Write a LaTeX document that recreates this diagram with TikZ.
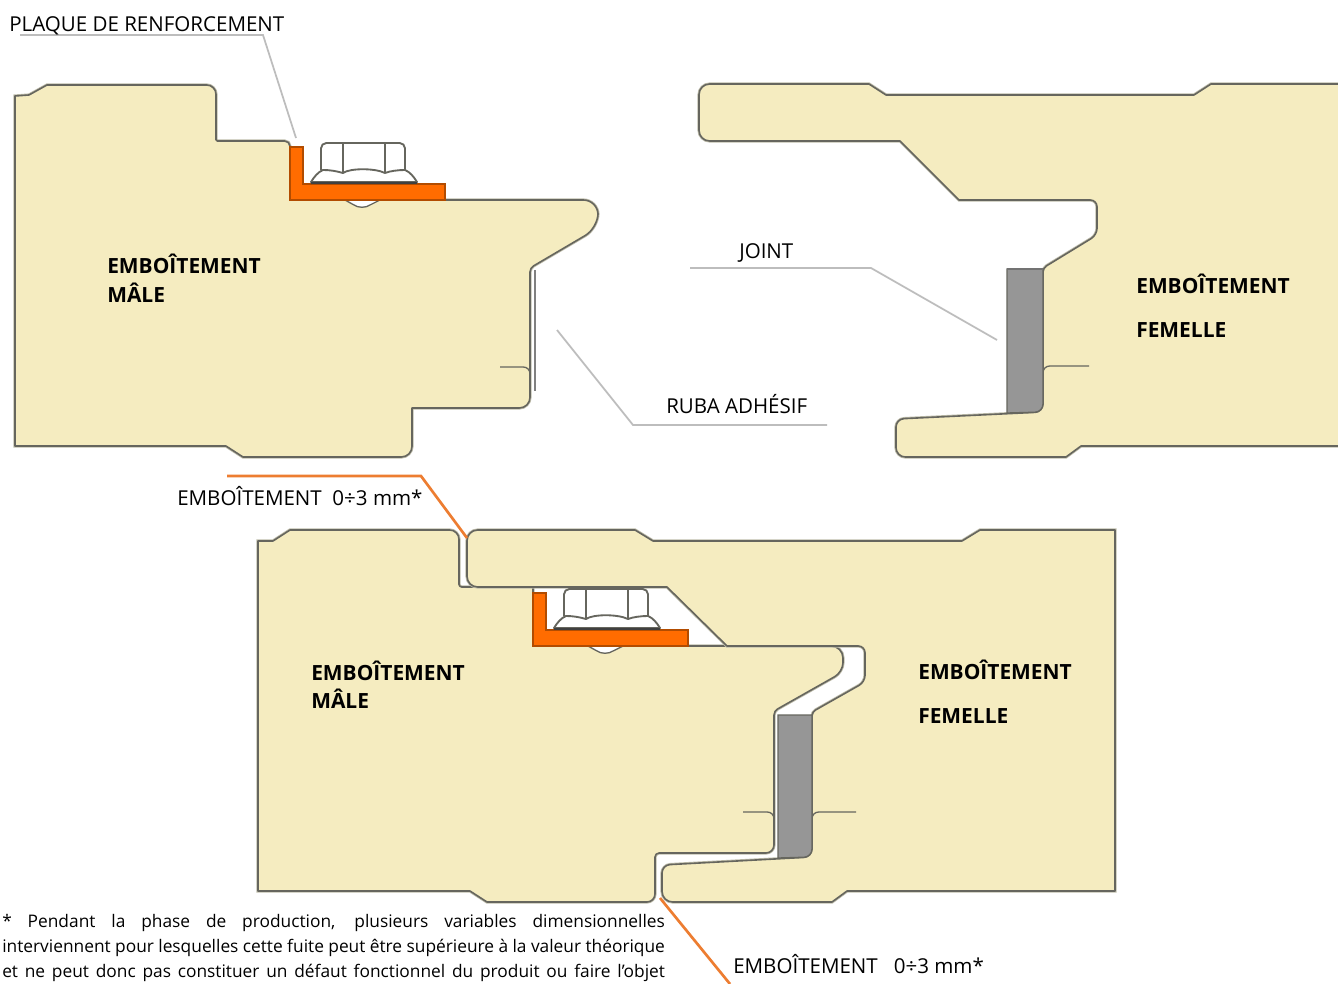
\documentclass[tikz,border=0pt]{standalone}
\usepackage{fontspec}
\setmainfont{Open Sans}
\definecolor{foam}{HTML}{F5ECC0}
\definecolor{edge}{HTML}{66665E}
\definecolor{halo}{HTML}{BFBDAB}
\definecolor{sealgrey}{HTML}{969696}
\definecolor{plateorange}{HTML}{FF6C00}
\definecolor{leadgrey}{HTML}{BDBDBD}
\definecolor{leadorange}{HTML}{ED7D31}
\newcommand{\jline}[1]{\hbox to 497pt{\spaceskip=.2em plus 1fil\xspaceskip=.2em plus 1fil #1}}
\tikzset{
  panel/.style={fill=foam,draw=edge,line width=1.2pt,line join=round,rounded corners=5pt,
    preaction={draw=halo,line width=2.4pt}},
  groove/.style={draw=edge,line width=1pt,rounded corners=5pt},
  seal/.style={fill=sealgrey,draw=edge,line width=1pt},
  leader/.style={draw=leadgrey,line width=1.3pt},
  orangelead/.style={draw=leadorange,line width=2pt},
  tape/.style={draw=gray,line width=1.6pt},
  lbl/.style={anchor=base west,inner sep=0pt,font=\fontsize{15.4}{18}\selectfont},
  blbl/.style={anchor=base west,inner sep=0pt,font=\fontsize{15.7}{18}\selectfont\bfseries},
  bolt/.pic={
    % plate bottom-left is the origin
    \fill[white,draw=edge,line width=1pt] (55,0) -- (64,5) .. controls (68,8) and (76,8) .. (80,5) -- (90,0) -- cycle;
    \path[fill=plateorange,draw=plateorange!70!black,line width=1pt] (0,-53) -- (13,-53) -- (13,-16) -- (155,-16) -- (155,0) -- (0,0) -- cycle;
    \path[fill=white,draw=edge,line width=1.4pt,rounded corners=4pt] (31,-30) -- (31,-57) -- (115,-57) -- (115,-30);
    \path[fill=white,draw=edge,line width=1.4pt,line join=round] (21,-18)
      .. controls (24,-23) and (28,-28) .. (33,-30)
      .. controls (40,-30) and (46,-29) .. (53,-27)
      .. controls (60,-32) and (85,-32) .. (95,-27)
      .. controls (100,-29) and (108,-30) .. (115,-30)
      .. controls (120,-28) and (124,-23) .. (127,-18) -- cycle;
    \draw[edge,line width=1.4pt] (53,-57) -- (53,-27) (95,-57) -- (95,-27);
    \draw[black!75,line width=1.8pt] (21,-17) -- (127,-17);
  }
}
\begin{document}
\begin{tikzpicture}[x=.75pt,y=-.75pt]
\clip (0,0) rectangle (1338,984);
\useasboundingbox (0,0) rectangle (1338,984);
\fill[white] (0,0) rectangle (1338,984);

% ---------- top left: male ----------
\path[panel] (15,446) [sharp corners] -- (15,96) -- (29,95) -- (47,85) [rounded corners=7pt] -- (216,85) [rounded corners=1pt] -- (216,141) [rounded corners=4pt] -- (290,141) [rounded corners=1pt] -- (290,200) [rounded corners=11pt] -- (598,200) -- (598,228) [rounded corners=3pt] -- (530,268) [rounded corners=8pt] -- (530,408) [sharp corners] -- (412,408) [rounded corners=8pt] -- (412,457) [sharp corners] -- (243,457) -- (226,446) -- cycle;
\path[groove] (500,367) -- (530,367) -- (530,385);
\draw[tape] (535,270) -- (535,391);
\pic at (290,200) {bolt};

% ---------- top right: female ----------
\path[panel] (1345,84) [sharp corners] -- (1211,84) -- (1194,95) -- (886,95) -- (869,84) [rounded corners=8pt] -- (699,84) -- (699,141) [sharp corners] -- (900,141) -- (959,200) [rounded corners=5pt] -- (1097,200) -- (1097,235) [rounded corners=3pt] -- (1043,268) [rounded corners=6pt] -- (1043,412) -- (896,419) [rounded corners=7pt] -- (896,457) [sharp corners] -- (1066,457) -- (1081,446) -- (1345,446) -- cycle;
\path[groove] (1089,366) -- (1043,366) -- (1043,385);
\path[seal] (1007,269) [sharp corners] -- (1043,269) [rounded corners=6pt] -- (1043,412) [sharp corners] -- (1007,413) -- cycle;
\draw[black!55,line width=1.6pt] (1007,269) -- (1043,269);

% ---------- bottom: assembled ----------
\path[panel] (258,891) [sharp corners] -- (258,541) -- (273,541) -- (290,530) [rounded corners=7pt] -- (459,530) [rounded corners=2pt] -- (459,587) [sharp corners] -- (533,587) [rounded corners=1pt] -- (533,646) [rounded corners=9pt] -- (843,646) [rounded corners=7pt] -- (843,672) [rounded corners=3pt] -- (774,711) [rounded corners=6pt] -- (774,853) [rounded corners=3pt] -- (655,853) [rounded corners=6pt] -- (655,902) [sharp corners] -- (487,902) -- (470,891) -- cycle;
\path[groove] (743,812) -- (774,812) -- (774,830);
\path[panel] (1115,891) [sharp corners] -- (1115,530) -- (980,530) -- (962,541) -- (653,541) -- (635,530) [rounded corners=8pt] -- (467,530) -- (467,587) [sharp corners] -- (667,587) -- (727,646) [rounded corners=5pt] -- (865,646) -- (865,682) [rounded corners=3pt] -- (812,712) [rounded corners=6pt] -- (812,857) -- (662,865) [rounded corners=8pt] -- (662,902) [sharp corners] -- (832,902) -- (847,891) -- cycle;
\path[groove] (856,812) -- (812,812) -- (812,830);
\path[seal] (778,715) [sharp corners] -- (812,715) [rounded corners=6pt] -- (812,857) [sharp corners] -- (778,858) -- cycle;
\pic at (533,646) {bolt};

% ---------- leaders ----------
\coordinate (pA) at (20,35); \coordinate (pB) at (263,35); \coordinate (pC) at (296,138);
\coordinate (rA) at (557,330); \coordinate (rB) at (633,425); \coordinate (rC) at (827,425);
\coordinate (jA) at (690,268); \coordinate (jB) at (871,268); \coordinate (jC) at (997,340);
\coordinate (oA) at (227,476); \coordinate (oB) at (421,476); \coordinate (oC) at (467,538);
\coordinate (oD) at (660,898); \coordinate (oE) at (730,984);
\draw[leader] (pA) -- (pB) -- (pC);
\draw[leader] (rA) -- (rB) -- (rC);
\draw[leader] (jA) -- (jB) -- (jC);
\draw[orangelead] (oA) -- (oB) -- (oC);
\draw[orangelead] (oD) -- (oE);

% ---------- labels ----------
\node[lbl] (t1) at (9,32) {PLAQUE DE RENFORCEMENT};
\node[lbl] (t2) at (739,259) {JOINT};
\node[lbl] (t3) at (666,413) {RUBA ADHÉSIF};
\node[lbl] (t4) at (177,505) {EMBOÎTEMENT\ \ 0÷3 mm*};
\node[lbl] (t5) at (733,973) {EMBOÎTEMENT\ \ \ 0÷3 mm*};
\node[blbl] (m1) at (107,273) {EMBOÎTEMENT};
\node[blbl] (m2) at (107,302) {MÂLE};
\node[blbl] (f1) at (1136,293) {EMBOÎTEMENT};
\node[blbl] (f2) at (1136,337) {FEMELLE};
\node[blbl] (m3) at (311,680) {EMBOÎTEMENT};
\node[blbl] (m4) at (311,708) {MÂLE};
\node[blbl] (f3) at (918,679) {EMBOÎTEMENT};
\node[blbl] (f4) at (918,723) {FEMELLE};
\node[anchor=north west,inner sep=0pt,font=\fontsize{13}{18.6}\selectfont,text width=497pt] (para) at (2,914.5) {%
\jline{* Pendant la phase de production, plusieurs variables dimensionnelles}\par
\jline{interviennent pour lesquelles cette fuite peut être supérieure à la valeur théorique}\par
\jline{et ne peut donc pas constituer un défaut fonctionnel du produit ou faire l'objet}};
\end{tikzpicture}
\end{document}
